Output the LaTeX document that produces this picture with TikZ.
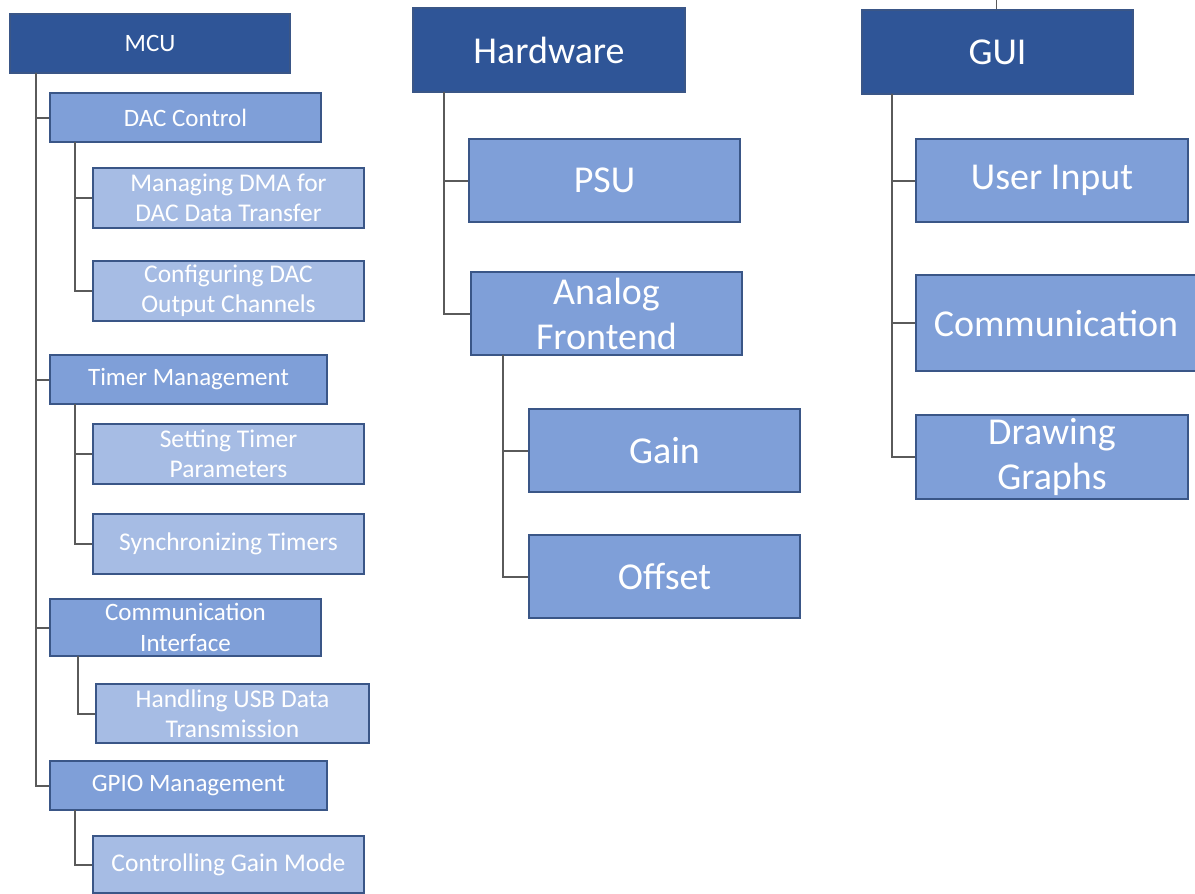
\documentclass[tikz,border=0pt]{standalone}
\usepackage{fontspec}
\setmainfont{Carlito}
\begin{document}
\begin{tikzpicture}[x=1pt,y=-1pt,
  box/.style={draw=boxline,line width=1.5pt,text=white,align=center,inner sep=0pt},
  top/.style={box,fill=topfill},
  lvone/.style={box,fill=midfill},
  lvtwo/.style={box,fill=lightfill},
  sm/.style={font=\fontsize{25}{31}\selectfont},
  md/.style={font=\fontsize{25.5}{30}\selectfont},
  lg/.style={font=\fontsize{38}{45}\selectfont},
  link/.style={draw=linkgray,line width=2pt}]
\definecolor{topfill}{HTML}{2F5597}
\definecolor{midfill}{HTML}{7F9FD8}
\definecolor{lightfill}{HTML}{A6BCE4}
\definecolor{boxline}{HTML}{3A5687}
\definecolor{linkgray}{HTML}{5A5A5A}
\useasboundingbox[fill=white] (0,0) rectangle (1195,894);

% MCU column
\node[top,sm,minimum width=280,minimum height=59] (mcu) at (150,43.5) {MCU};
\node[lvone,sm,minimum width=271,minimum height=49] (dac) at (185.5,117.5) {DAC Control};
\node[lvtwo,md,minimum width=271,minimum height=60] (dma) at (228.5,198) {Managing DMA for\\DAC Data Transfer};
\node[lvtwo,md,minimum width=271,minimum height=60] (cfg) at (228.5,291) {Configuring DAC\\Output Channels};
\node[lvone,sm,minimum width=277,minimum height=49] (tim) at (188.5,379.5) {Timer Management};
\node[lvtwo,md,minimum width=271,minimum height=60] (set) at (228.5,454) {Setting Timer\\Parameters};
\node[lvtwo,md,minimum width=271,minimum height=60] (syn) at (228.5,544) {Synchronizing Timers};
\node[lvone,sm,minimum width=271,minimum height=57] (com) at (185.5,627.5) {Communication\\Interface};
\node[lvtwo,md,minimum width=273,minimum height=59] (usb) at (232.5,713.5) {Handling USB Data\\Transmission};
\node[lvone,sm,minimum width=277,minimum height=49] (gpio) at (188.5,785.5) {GPIO Management};
\node[lvtwo,md,minimum width=271,minimum height=57] (cgm) at (228.5,864.5) {Controlling Gain Mode};

\coordinate (mcuT) at (36,73);
\coordinate (dacT) at (75,142);
\coordinate (timT) at (75,404);
\coordinate (comT) at (78,656);
\coordinate (gpioT) at (75,810);
\draw[link] (mcuT) |- (dac.west);
\draw[link] (mcuT) |- (tim.west);
\draw[link] (mcuT) |- (com.west);
\draw[link] (mcuT) |- (gpio.west);
\draw[link] (dacT) |- (dma.west);
\draw[link] (dacT) |- (cfg.west);
\draw[link] (timT) |- (set.west);
\draw[link] (timT) |- (syn.west);
\draw[link] (comT) |- (usb.west);
\draw[link] (gpioT) |- (cgm.west);

% Hardware column
\node[top,lg,minimum width=272,minimum height=84] (hw) at (549,50) {Hardware};
\node[lvone,lg,minimum width=271,minimum height=83] (psu) at (604.5,180.5) {PSU};
\node[lvone,lg,minimum width=271,minimum height=83] (afe) at (606.5,313.5) {Analog\\Frontend};
\node[lvone,lg,minimum width=271,minimum height=83] (gain) at (664.5,450.5) {Gain};
\node[lvone,lg,minimum width=271,minimum height=83] (off) at (664.5,576.5) {Offset};
\coordinate (hwT) at (444,92);
\coordinate (afeT) at (503,355);
\draw[link] (hwT) |- (psu.west);
\draw[link] (hwT) |- (afe.west);
\draw[link] (afeT) |- (gain.west);
\draw[link] (afeT) |- (off.west);

% GUI column
\node[top,lg,minimum width=271,minimum height=84] (gui) at (997.5,52) {GUI};
\node[lvone,lg,minimum width=272,minimum height=83] (uin) at (1052,180.5) {User Input};
\node[lvone,lg,minimum width=280,minimum height=96] (gcom) at (1056,323) {Communication};
\node[lvone,lg,minimum width=272,minimum height=84] (draw) at (1052,457) {Drawing\\Graphs};
\coordinate (guiT) at (892,94);
\coordinate (guiTop) at (996,0);
\draw[link,line width=1pt] (guiTop) -- (gui.north -| guiTop);
\draw[link] (guiT) |- (uin.west);
\draw[link] (guiT) |- (gcom.west);
\draw[link] (guiT) |- (draw.west);
\end{tikzpicture}
\end{document}
